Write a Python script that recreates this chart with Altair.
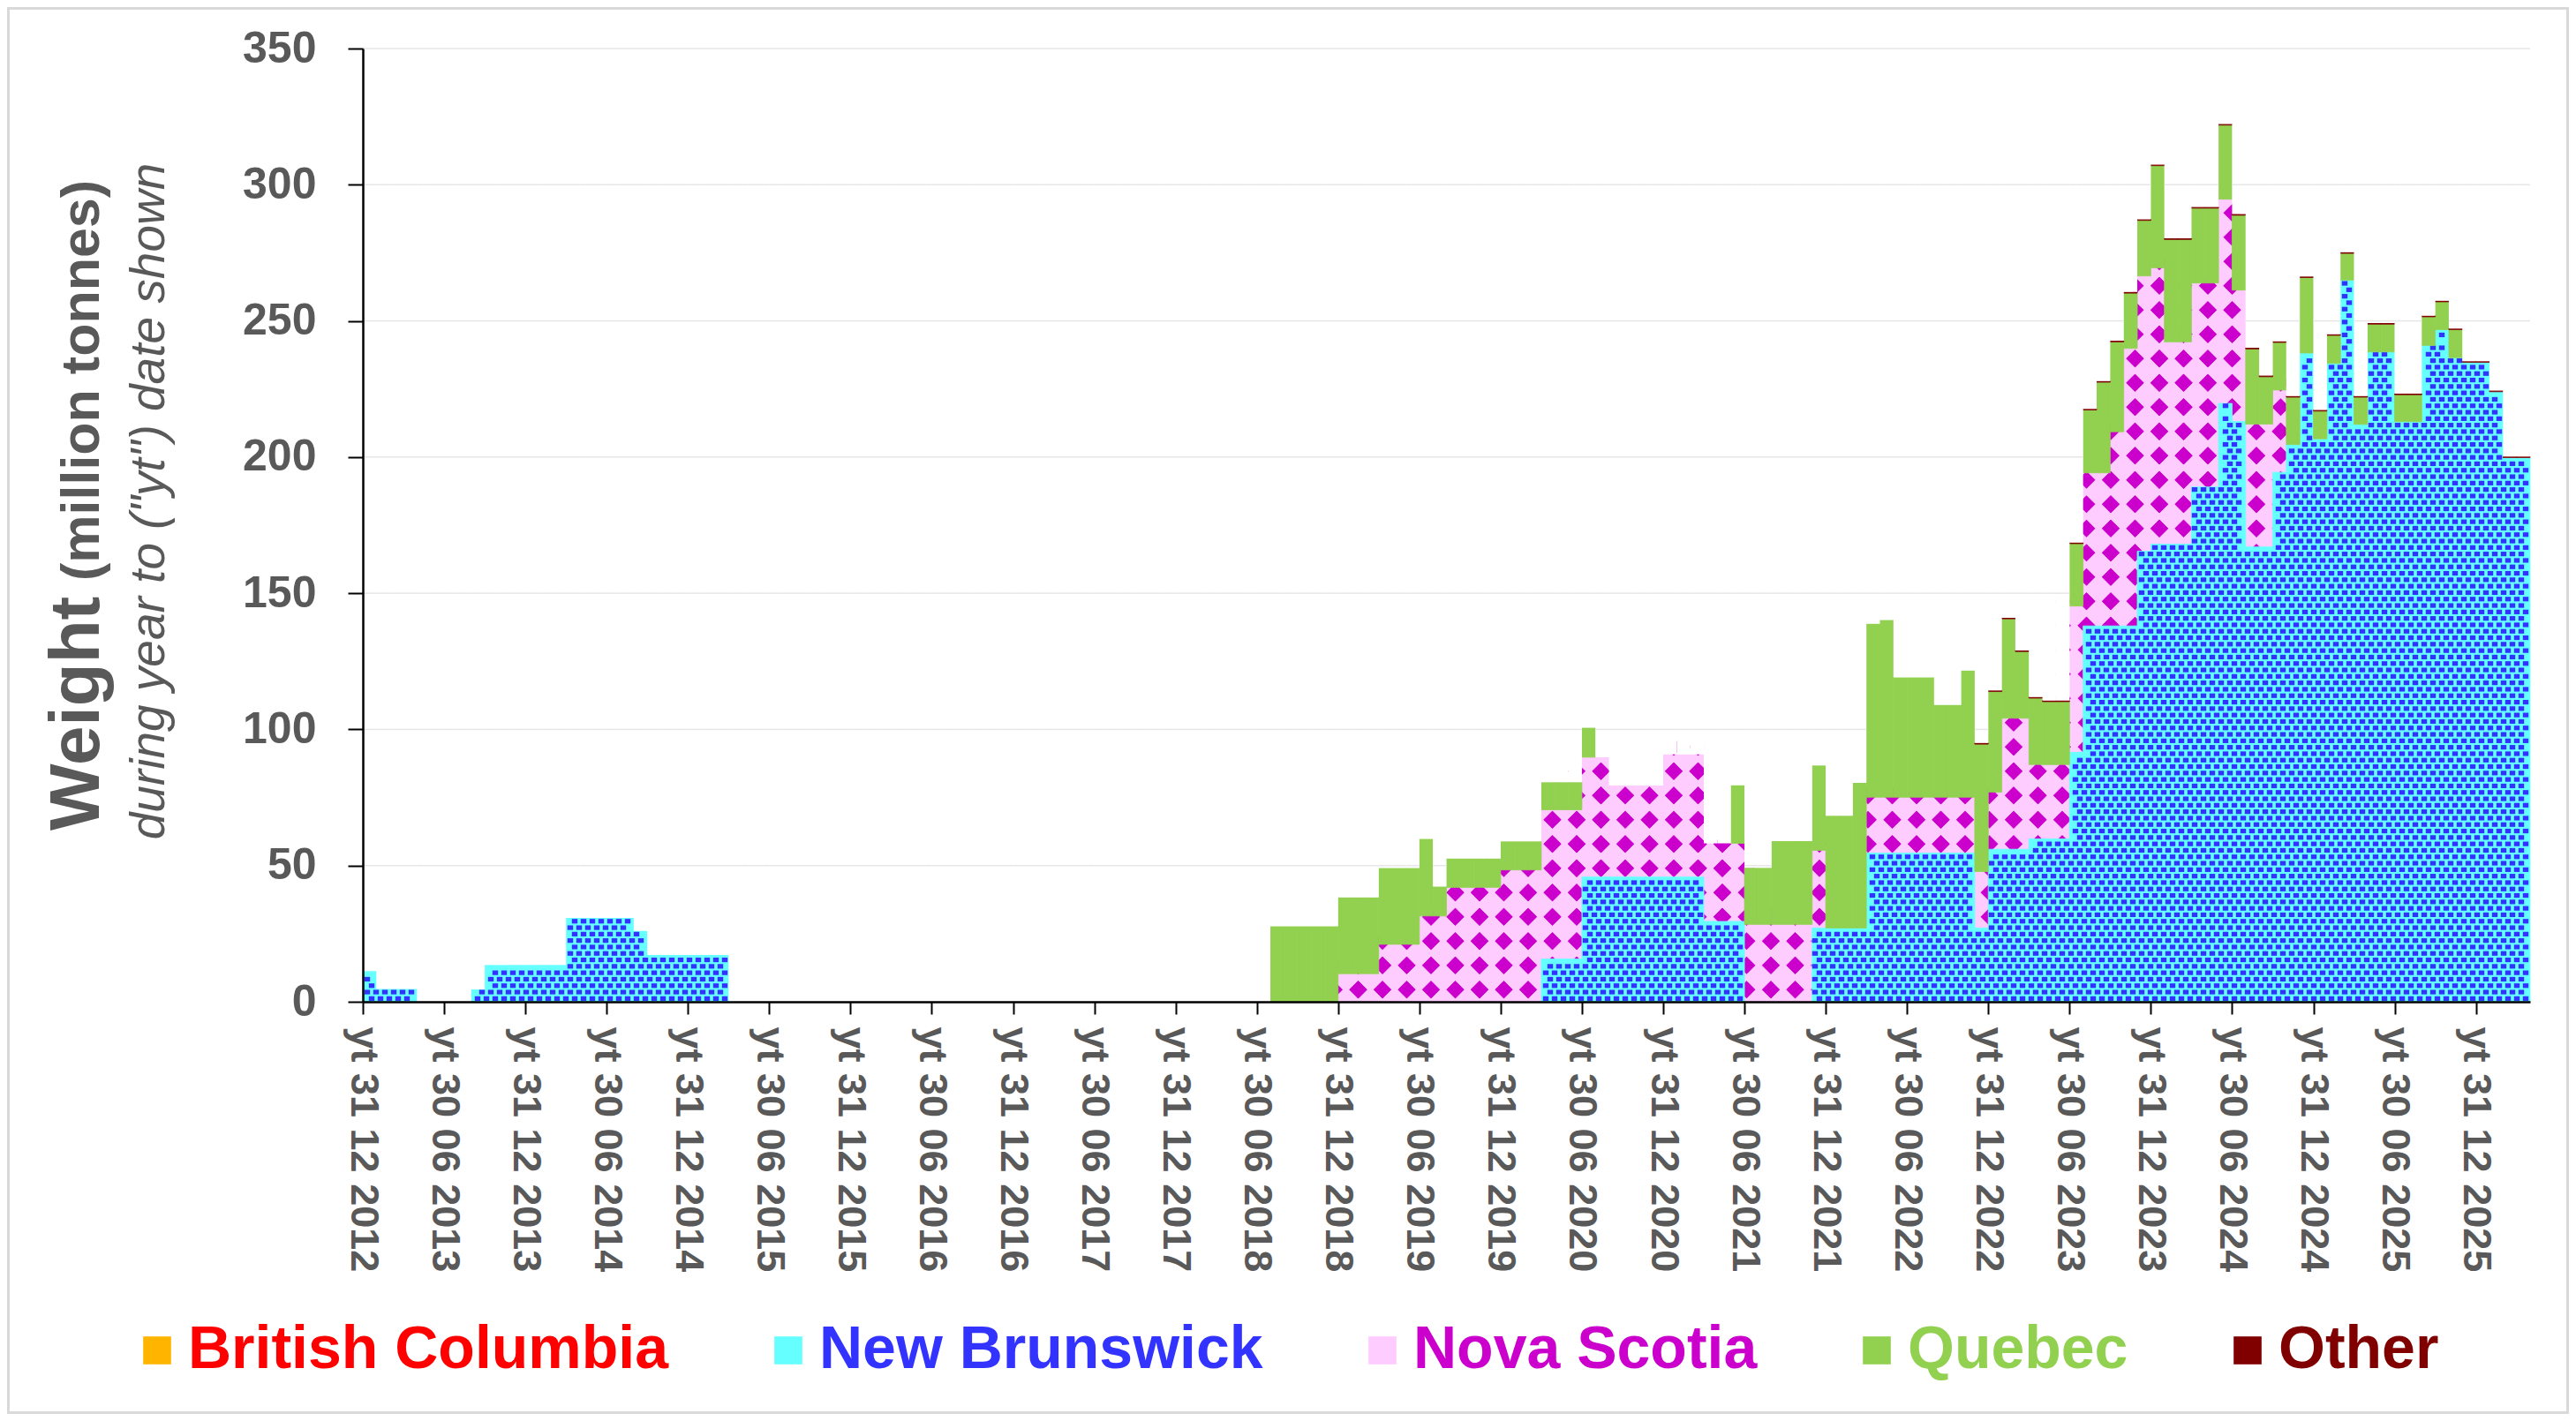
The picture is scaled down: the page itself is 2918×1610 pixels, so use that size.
import altair as alt
import pandas as pd

# ---------------- data ----------------
SERIES = ["British Columbia", "New Brunswick", "Nova Scotia", "Quebec", "Other"]
FILLS = ["#FFB400", "#66FFFF", "#FFCCFF", "#92D050", "#800000"]
LABEL_COLORS = ["#FF0000", "#3333FF", "#CC00CC", "#92D050", "#800000"]

TICK_LABELS = [
    "yt 31 12 2012", "yt 30 06 2013", "yt 31 12 2013", "yt 30 06 2014", "yt 31 12 2014",
    "yt 30 06 2015", "yt 31 12 2015", "yt 30 06 2016", "yt 31 12 2016", "yt 30 06 2017",
    "yt 31 12 2017", "yt 30 06 2018", "yt 31 12 2018", "yt 30 06 2019", "yt 31 12 2019",
    "yt 30 06 2020", "yt 31 12 2020", "yt 30 06 2021", "yt 31 12 2021", "yt 30 06 2022",
    "yt 31 12 2022", "yt 30 06 2023", "yt 31 12 2023", "yt 30 06 2024", "yt 31 12 2024",
    "yt 30 06 2025", "yt 31 12 2025",
]
Y_TICKS = [0, 50, 100, 150, 200, 250, 300, 350]
GRID_VALUES = [50, 100, 150, 200, 250, 300, 350]

# monthly values, Dec 2012 (index 0) .. Mar 2026 (index 159), million tonnes
nb = [
    11.3, 4.7, 4.7, 4.7, 0, 0, 0, 0, 4.5, 13.5,                 # 0-9
    13.5, 13.5, 13.5, 13.5, 13.5, 30.8, 30.8, 30.8, 30.8, 30.8,  # 10-19
    26.0, 17.2, 17.2, 17.2, 17.2, 17.2, 17.2, 0, 0, 0,           # 20-29
    0, 0, 0, 0, 0, 0, 0, 0, 0, 0,                                # 30-39
    0, 0, 0, 0, 0, 0, 0, 0, 0, 0,                                # 40-49
    0, 0, 0, 0, 0, 0, 0, 0, 0, 0,                                # 50-59
    0, 0, 0, 0, 0, 0, 0, 0, 0, 0,                                # 60-69
    0, 0, 0, 0, 0, 0, 0, 0, 0, 0,                                # 70-79
    0, 0, 0, 0, 0, 0, 0, 15.7, 15.7, 15.7,                       # 80-89
    45.8, 45.8, 45.8, 45.8, 45.8, 45.8, 45.8, 45.8, 45.8, 29.5,  # 90-99
    29.5, 29.5, 0, 0, 0, 0, 0, 27.1, 27.1, 27.1,                 # 100-109
    27.1, 54.6, 54.6, 54.6, 54.6, 54.6, 54.6, 54.6, 54.6, 27.1,  # 110-119
    56.0, 56.0, 56.0, 59.8, 59.8, 59.8, 91.6, 138.0, 138.0, 138.0,  # 120-129
    138.0, 165.4, 168.0, 168.0, 168.0, 189.0, 189.0, 219.7, 213.1, 167.0,  # 130-139
    167.0, 194.4, 204.6, 238.2, 206.7, 234.4, 265.0, 212.0, 238.6, 238.6,  # 140-149
    213.0, 213.0, 241.0, 246.8, 236.5, 234.8, 234.8, 224.0, 199.8, 199.8,  # 150-159
]
ns = [
    0, 0, 0, 0, 0, 0, 0, 0, 0, 0,                                # 0-9
    0, 0, 0, 0, 0, 0, 0, 0, 0, 0,                                # 10-19
    0, 0, 0, 0, 0, 0, 0, 0, 0, 0,                                # 20-29
    0, 0, 0, 0, 0, 0, 0, 0, 0, 0,                                # 30-39
    0, 0, 0, 0, 0, 0, 0, 0, 0, 0,                                # 40-49
    0, 0, 0, 0, 0, 0, 0, 0, 0, 0,                                # 50-59
    0, 0, 0, 0, 0, 0, 0, 0, 0, 0,                                # 60-69
    0, 0, 10.3, 10.3, 10.3, 21.1, 21.1, 21.1, 31.5, 31.5,        # 70-79
    42.0, 42.0, 42.0, 42.0, 48.4, 48.4, 48.4, 54.8, 54.8, 54.8,  # 80-89
    44.0, 44.0, 33.6, 33.6, 33.6, 33.6, 45.0, 45.0, 45.0, 28.7,  # 90-99
    28.7, 28.7, 28.4, 28.4, 28.4, 28.4, 28.4, 28.5, 0, 0,        # 100-109
    0, 20.5, 20.5, 20.5, 20.5, 20.5, 20.5, 20.5, 20.5, 20.7,     # 110-119
    21.0, 48.1, 48.1, 27.3, 27.3, 27.3, 53.7, 56.2, 56.2, 71.3,  # 120-129
    101.9, 101.1, 101.5, 74.3, 74.3, 74.9, 74.9, 75.0, 48.2, 45.1,  # 130-139
    45.1, 30.2, 0, 0, 0, 0, 0, 0, 0, 0,                          # 140-149
    0, 0, 0, 0, 0, 0, 0, 0, 0, 0,                                # 150-159
]
qc = [
    0, 0, 0, 0, 0, 0, 0, 0, 0, 0,                                # 0-9
    0, 0, 0, 0, 0, 0, 0, 0, 0, 0,                                # 10-19
    0, 0, 0, 0, 0, 0, 0, 0, 0, 0,                                # 20-29
    0, 0, 0, 0, 0, 0, 0, 0, 0, 0,                                # 30-39
    0, 0, 0, 0, 0, 0, 0, 0, 0, 0,                                # 40-49
    0, 0, 0, 0, 0, 0, 0, 0, 0, 0,                                # 50-59
    0, 0, 0, 0, 0, 0, 0, 27.7, 27.7, 27.7,                       # 60-69
    27.7, 27.7, 28.0, 28.0, 28.0, 28.0, 28.0, 28.0, 28.3, 10.8,  # 70-79
    10.6, 10.6, 10.6, 10.6, 10.5, 10.5, 10.5, 10.1, 10.1, 10.1,  # 80-89
    10.8, 0, 0, 0, 0, 0, 0, 0, 0, 0,                             # 90-99
    0, 21.3, 20.8, 20.8, 30.6, 30.6, 30.6, 31.2, 41.2, 41.2,     # 100-109
    53.3, 63.7, 65.1, 44.0, 44.0, 44.0, 33.9, 33.9, 46.5, 46.8,  # 110-119
    36.9, 36.5, 24.5, 24.4, 23.1, 23.1, 22.9, 23.1, 33.3, 33.0,  # 120-129
    20.3, 20.4, 37.5, 37.6, 37.6, 27.5, 27.5, 27.2, 27.5, 27.6,  # 130-139
    17.4, 17.5, 17.4, 27.7, 10.2, 10.3, 9.8, 10.0, 10.2, 10.2,   # 140-149
    9.9, 9.9, 10.5, 10.2, 10.3, 0, 0, 0, 0, 0,                   # 150-159
]
ot = [
    0, 0, 0, 0, 0, 0, 0, 0, 0, 0,                                # 0-9
    0, 0, 0, 0, 0, 0, 0, 0, 0, 0,                                # 10-19
    0, 0, 0, 0, 0, 0, 0, 0, 0, 0,                                # 20-29
    0, 0, 0, 0, 0, 0, 0, 0, 0, 0,                                # 30-39
    0, 0, 0, 0, 0, 0, 0, 0, 0, 0,                                # 40-49
    0, 0, 0, 0, 0, 0, 0, 0, 0, 0,                                # 50-59
    0, 0, 0, 0, 0, 0, 0, 0, 0, 0,                                # 60-69
    0, 0, 0, 0, 0, 0, 0, 0, 0, 0,                                # 70-79
    0, 0, 0, 0, 0, 0, 0, 0, 0, 0,                                # 80-89
    0, 0, 0, 0, 0, 0, 0, 0, 0, 0,                                # 90-99
    0, 0, 0, 0, 0, 0, 0, 0, 0, 0,                                # 100-109
    0, 0, 0, 0, 0, 0, 0, 0, 0, 0.4,                              # 110-119
    0.4, 0.4, 0.4, 0.4, 0.4, 0.4, 0.4, 0.4, 0.4, 0.4,            # 120-129
    0.4, 0.4, 0.4, 0.4, 0.4, 0.4, 0.4, 0.4, 0.4, 0.4,            # 130-139
    0.4, 0.4, 0.4, 0.4, 0.4, 0.4, 0.4, 0.4, 0.4, 0.4,            # 140-149
    0.4, 0.4, 0.4, 0.4, 0.4, 0.4, 0.4, 0.4, 0.4, 0.4,            # 150-159
]
for arr in (nb, ns, qc, ot):
    assert len(arr) == 160

TITLE_MAIN = "Weight"
TITLE_UNIT = "(million tonnes)"
TITLE_SUB = 'during year to ("yt") date shown'

# ---------------- table ----------------
rows = []
stack_series = [("New Brunswick", nb), ("Nova Scotia", ns), ("Quebec", qc), ("Other", ot)]
for i in range(len(nb)):
    for order, (name, vals) in enumerate(stack_series):
        rows.append({"i": i, "series": name, "order": order, "value": vals[i]})
df = pd.DataFrame(rows)

# ---------------- layout / style ----------------
W, H = 2455, 1080
PAD = {"left": 403, "top": 47, "right": 44, "bottom": 467}
FONT = "Liberation Sans, Arial, Helvetica, sans-serif"
GREY = "#595959"
NMONTHS = 160
YMAX = 350
PXM = W / NMONTHS          # px per month
PXU = H / float(YMAX)      # px per unit

# NB texture: blue dashes on cyan
SY = 7.3 / PXU
P = 10.0 / PXM
DW, DH = 6.4, 5.2
HY = DH / 2 / PXU
HX = DW / 2 / PXM
# NS texture: magenta diamonds on pink
SYD = 27.5 / PXU
PD = 27.5 / PXM
RY = 10.0 / PXU
RX = 10.0 / PXM

tick_pos = [6 * k for k in range(len(TICK_LABELS))]
label_expr = "[" + ",".join("'%s'" % t for t in TICK_LABELS) + "][round(datum.value / 6)]"

x_scale = alt.Scale(domain=[0, NMONTHS], nice=False, zero=False)
y_scale = alt.Scale(domain=[0, YMAX], nice=False, zero=True)

x_axis = alt.Axis(
    values=tick_pos, labelExpr=label_expr, title=None, grid=False,
    labelAngle=90, labelFont=FONT, labelFontSize=45, labelFontWeight="bold",
    labelColor=GREY, labelPadding=14, labelOverlap=False, labelFlush=False,
    labelLimit=1000, tickSize=14, tickWidth=2, tickColor="#000000",
    domainColor="#000000", domainWidth=2.5, zindex=1,
)
y_axis = alt.Axis(
    values=Y_TICKS, title=None, grid=False, labelFont=FONT, labelFontSize=50,
    labelFontWeight="bold", labelColor=GREY, labelPadding=36, tickSize=17,
    tickWidth=2, tickColor="#000000", domainColor="#000000", domainWidth=2.5,
    zindex=1,
)


def X(f):
    return alt.X(f, type="quantitative", scale=x_scale, axis=x_axis)


def Y(f):
    return alt.Y(f, type="quantitative", scale=y_scale, axis=y_axis)


label_color_expr = "".join(
    "datum.label == '%s' ? '%s' : " % (s, c) for s, c in zip(SERIES, LABEL_COLORS)
) + "'#000000'"

legend = alt.Legend(
    title=None, orient="none", legendX=-267, legendY=1441, direction="horizontal",
    columns=5, symbolType="square", symbolSize=1000, symbolStrokeWidth=0,
    symbolOpacity=1, labelFont=FONT, labelFontSize=68, labelFontWeight="bold",
    labelColor={"expr": label_color_expr}, labelOffset=1, columnPadding=101,
    padding=0, labelLimit=1000,
)
color = alt.Color("series:N", scale=alt.Scale(domain=SERIES, range=FILLS), legend=legend)

base = (
    alt.Chart(df)
    .transform_stack(stack="value", groupby=["i"], as_=["y0", "y1"],
                     sort=[alt.SortField("order", order="ascending")])
    .transform_joinaggregate(total="sum(value)", groupby=["i"])
    .transform_window(yprev="lag(y1)", ynext="lead(y1)",
                      groupby=["series"], sort=[alt.SortField("i", order="ascending")])
    .transform_calculate(
        i1="datum.i + 1",
        ytop=str(YMAX),
        yp="datum.yprev == null ? 0 : datum.yprev",
        yn="datum.ynext == null ? 0 : datum.ynext",
    )
)


def bg(name, fill):
    return (
        base.transform_filter("datum.series == '%s' && datum.value > 0" % name)
        .mark_rect(stroke=fill, strokeWidth=0.8)
        .encode(x=X("i"), x2="i1:Q", y=Y("y0"), y2="y1:Q", color=color)
    )


ns_bg = bg("Nova Scotia", FILLS[2])
nb_bg = bg("New Brunswick", FILLS[1])
qc_bg = bg("Quebec", FILLS[3])
ot_bg = bg("Other", FILLS[4])

# diamond lattice overlapping each Nova Scotia block; spill-over is hidden
# by the layers drawn afterwards (NB, Quebec, Other, white mask)
diamonds = (
    base.transform_filter("datum.series == 'Nova Scotia' && datum.value > 0")
    .transform_calculate(
        ks="sequence(ceil((datum.y0 - %f) / %f - 0.5), floor((datum.y1 + %f) / %f - 0.5) + 1)"
        % (RY, SYD, RY, SYD))
    .transform_flatten(["ks"], as_=["k"])
    .transform_calculate(
        cs="sequence(ceil((datum.i - %f) / %f), ceil((datum.i + 1 + %f) / %f))" % (RX, PD, RX, PD))
    .transform_flatten(["cs"], as_=["c"])
    .transform_calculate(xc="datum.c * %f" % PD, yc="(datum.k + 0.5) * %f" % SYD)
    .transform_filter("datum.yc - %f >= 0 && datum.xc - %f >= 0" % (RY, RX))
    .mark_point(shape="diamond", filled=True, size=400, color="#CC00CC",
                opacity=1, strokeWidth=0)
    .encode(x=X("xc"), y=Y("yc"))
)

dashes = (
    base.transform_filter("datum.series == 'New Brunswick' && datum.value > 0")
    .transform_calculate(
        ks="sequence(ceil((datum.y0 + %f) / %f - 0.5), floor((datum.y1 - %f) / %f - 0.5) + 1)"
        % (HY, SY, HY, SY))
    .transform_flatten(["ks"], as_=["k"])
    .transform_calculate(o="(datum.k % 2) * 0.5")
    .transform_calculate(cs="sequence(ceil(datum.i / %f - datum.o), ceil((datum.i + 1) / %f - datum.o))" % (P, P))
    .transform_flatten(["cs"], as_=["c"])
    .transform_calculate(xc="(datum.c + datum.o) * %f" % P, yc="(datum.k + 0.5) * %f" % SY)
    .transform_filter(
        "(datum.xc - %f >= datum.i || datum.yc + %f <= datum.yp)"
        " && (datum.xc + %f <= datum.i + 1 || datum.yc + %f <= datum.yn)"
        % (HX, HY, HX, HY))
    .mark_point(shape="M-1,-0.8125L1,-0.8125L1,0.8125L-1,0.8125Z", filled=True,
                size=(DW / 2) ** 2 * 4, color="#3333FF", opacity=1, strokeWidth=0)
    .encode(x=X("xc"), y=Y("yc"))
)

# white area above each month's stack, then the gridlines visible there
one_per_month = base.transform_filter("datum.series == 'New Brunswick'")
mask = (
    one_per_month.mark_rect(color="#FFFFFF")
    .encode(x=X("i"), x2="i1:Q", y=Y("total"), y2="ytop:Q")
)
grid = (
    one_per_month
    .transform_calculate(gs="[" + ",".join(str(g) for g in GRID_VALUES) + "]")
    .transform_flatten(["gs"], as_=["g"])
    .transform_filter("datum.g > datum.total + 0.01")
    .mark_rule(color="#E6E6E6", strokeWidth=1.5)
    .encode(x=X("i"), x2="i1:Q", y=Y("g"))
)

border = (
    alt.Chart(pd.DataFrame({"a": [0]}))
    .mark_rect(fill="transparent", stroke="#D9D9D9", strokeWidth=3)
    .encode(x=alt.value(1.5 - PAD["left"]),
            x2=alt.value(W + PAD["right"] - 1.5),
            y=alt.value(1.5 - PAD["top"]),
            y2=alt.value(H + PAD["bottom"] - 1.5))
)

t_main = (
    alt.Chart(pd.DataFrame({"t": [TITLE_MAIN]}))
    .mark_text(angle=270, align="left", baseline="alphabetic", font=FONT,
               fontSize=80, fontWeight="bold", color=GREY)
    .encode(x=alt.value(-299), y=alt.value(886), text="t:N")
)
t_unit = (
    alt.Chart(pd.DataFrame({"t": [TITLE_UNIT]}))
    .mark_text(angle=270, align="left", baseline="alphabetic", font=FONT,
               fontSize=61, fontWeight="bold", color=GREY)
    .encode(x=alt.value(-299), y=alt.value(603), text="t:N")
)
t_sub = (
    alt.Chart(pd.DataFrame({"t": [TITLE_SUB]}))
    .mark_text(angle=270, align="center", baseline="alphabetic", font=FONT,
               fontSize=55, fontStyle="italic", color=GREY)
    .encode(x=alt.value(-225), y=alt.value(513), text="t:N")
)

chart = (
    alt.layer(border, ns_bg, diamonds, nb_bg, dashes, qc_bg, ot_bg, mask, grid,
              t_main, t_unit, t_sub)
    .properties(width=W, height=H, autosize=alt.AutoSizeParams(type="none"),
                padding=PAD, background="white")
    .configure_view(strokeWidth=0)
)

chart.save("out.html", embed_options={"renderer": "svg", "actions": False})
